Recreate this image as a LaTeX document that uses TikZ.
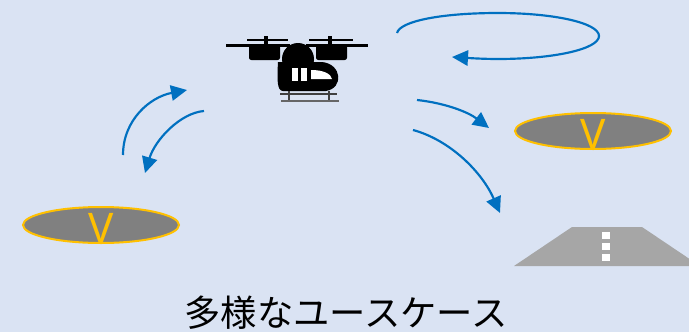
\documentclass[tikz,border=0pt]{standalone}
\usepackage{fontspec}
\setmainfont{Noto Sans CJK JP}
\setsansfont{Noto Sans}
\usepackage{xcolor}
\usepackage{tikz}
\usetikzlibrary{shapes.geometric,arrows.meta,positioning}

\definecolor{bgblue}{HTML}{DAE3F3}
\definecolor{flowblue}{HTML}{0070C0}
\definecolor{padgray}{HTML}{808080}
\definecolor{padring}{HTML}{FFC000}
\definecolor{roadgray}{HTML}{A6A6A6}

\begin{document}
\begin{tikzpicture}[
    x=0.03cm, y=-0.03cm,
    pad/.style={ellipse, draw=padring, line width=0.06cm, fill=padgray, minimum width=4.68cm, minimum height=1.08cm, inner sep=0pt},
    padmark/.style={text=padring, font=\sffamily\fontsize{36}{36}\selectfont, inner sep=0pt, yshift=-0.09cm},
    flow/.style={draw=flowblue, line width=0.065cm, -{Triangle[length=0.48cm,width=0.46cm]}},
    caption/.style={font=\fontsize{31}{36}\selectfont, inner sep=0pt}
]
    % Background
    \fill[bgblue] (0,0) rectangle (689,332);
    \useasboundingbox (0,0) rectangle (689,332);

    % Landing pads
    \node[pad, label={[padmark]center:V}] (padleft) at (101,225) {};
    \node[pad, label={[padmark]center:V}] (padright) at (593,131) {};

    % Road
    \fill[roadgray] (514,266) -- (572,227) -- (642,227) -- (689,258.6) -- (689,266) -- cycle;
    \foreach \y in {232,243,254}
        \fill[white] (602,\y) rectangle (610,\y+7);

    % Drone
    \coordinate (drone) at (298,60);
    \fill[black] (226,44) rectangle (290,46.5);
    \fill[black] (306,44) rectangle (368,46.5);
    \fill[black] (247,38.5) rectangle (288,40.5);
    \fill[black] (309,38.5) rectangle (353,40.5);
    \fill[black] (264,36) rectangle (268,46);
    \fill[black] (328,36) rectangle (332,46);
    \fill[black, rounded corners=2pt] (249,45) rectangle (280,60);
    \fill[black, rounded corners=2pt] (316,45) rectangle (347,60);
    \fill[black] (298,59) circle (16);
    \fill[black] (278,62) -- (322,62) .. controls (342,64) and (344,88) .. (326,91)
        -- (283,91) .. controls (277,91) and (277,80) .. (278,62) -- cycle;
    \fill[white] (292,68) rectangle (298,81);
    \fill[white] (301,68) rectangle (307,81);
    \fill[white] (311,70) .. controls (324,70) and (331,74) .. (332,79) -- (311,79) -- cycle;
    \draw[black!75, line width=0.05cm] (289,91) -- (289,100) (329,91) -- (329,100);
    \draw[black!75, line width=0.06cm] (280,94) -- (337,94);
    \draw[black!60, line width=0.06cm] (281,100.5) -- (339,100.5);

    % Arrow end points
    \coordinate (upstart) at (123,155);
    \coordinate (upend) at (187,90);
    \coordinate (downstart) at (204,111);
    \coordinate (downend) at (145,173);
    \coordinate (orbitstart) at (397,33);
    \coordinate (orbitend) at (452,57);
    \coordinate (padstart) at (417,100);
    \coordinate (padend) at (489,128);
    \coordinate (roadstart) at (413,130);
    \coordinate (roadend) at (500,213);

    % Arrows
    \path[flow] (upstart) .. controls (123,120) and (150,97) .. (upend);
    \path[flow] (downstart) .. controls (180,113) and (155,140) .. (downend);
    \path[flow] (orbitstart) .. controls (400,21) and (442,13) .. (498,13)
        .. controls (554,13) and (599,23) .. (599,36)
        .. controls (599,49) and (554,59) .. (498,59)
        .. controls (483,59) and (468,58) .. (orbitend);
    \path[flow] (padstart) .. controls (445,103) and (468,112) .. (padend);
    \path[flow] (roadstart) .. controls (450,140) and (482,172) .. (roadend);

    % Caption
    \node[caption] (usecases) at (346,313) {多様なユースケース};
\end{tikzpicture}
\end{document}
